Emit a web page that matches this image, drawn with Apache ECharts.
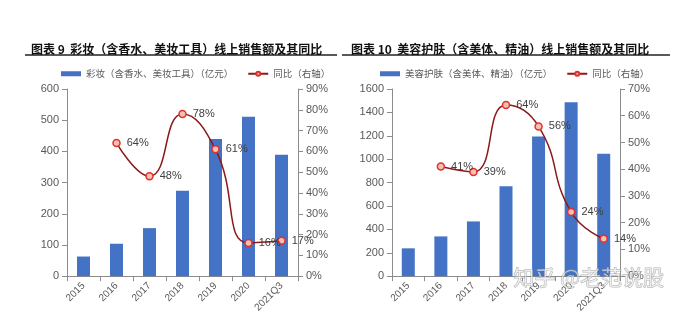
<!DOCTYPE html>
<html>
<head>
<meta charset="utf-8">
<script src="https://cdn.jsdelivr.net/npm/echarts@6/dist/echarts.min.js"></script>
<style>
  html, body { margin: 0; padding: 0; background: #fff; }
  #chart { width: 674px; height: 315px; }
</style>
</head>
<body>
<div id="chart"></div>
<script>
const years = ['2015', '2016', '2017', '2018', '2019', '2020', '2021Q3'];

// 彩妆
const makeupSales = [63, 104, 154, 274, 440, 511, 389];
const makeupYoY = [null, 64, 48, 78, 61, 16, 17];

// 美容护肤
const skincareSales = [238, 340, 468, 768, 1194, 1487, 1047];
const skincareYoY = [null, 41, 39, 64, 56, 24, 14];

const leftTicks = { max: 600, interval: 100 };
const rightTicks = { max: 1600, interval: 200 };

const chart = echarts.init(document.getElementById('chart'));

const axisGray = '#8c8c8c';
const labelGray = '#595959';
const barBlue = '#4472c4';
const lineRed = '#8b1a1a';
const dotRed = '#e03030';

function catAxis(gridIndex) {
  return {
    type: 'category',
    gridIndex: gridIndex,
    data: years,
    axisLine: { lineStyle: { color: axisGray } },
    axisTick: { show: true, lineStyle: { color: axisGray } },
    axisLabel: { rotate: 45, fontSize: 10, color: labelGray, margin: 8, fontFamily: 'Liberation Sans' }
  };
}

function valAxis(gridIndex, max, interval, pct) {
  return {
    type: 'value',
    gridIndex: gridIndex,
    min: 0,
    max: max,
    interval: interval,
    position: pct ? 'right' : 'left',
    splitLine: { show: false },
    axisLine: { show: true, lineStyle: { color: axisGray } },
    axisTick: { show: true, lineStyle: { color: axisGray } },
    axisLabel: {
      fontSize: 11,
      color: labelGray,
      fontFamily: 'Liberation Sans',
      formatter: v => pct ? v + '%' : String(v)
    }
  };
}

function lineSeries(xi, yi, data) {
  return {
    name: '同比（右轴）',
    type: 'line',
    xAxisIndex: xi,
    yAxisIndex: yi,
    data: data,
    smooth: 0.5,
    symbol: 'circle',
    symbolSize: 7,
    lineStyle: { color: lineRed, width: 1.5 },
    itemStyle: { color: '#f4c0b0', borderColor: dotRed, borderWidth: 1.5 },
    label: {
      show: true,
      position: 'right',
      distance: 6,
      formatter: '{c}%',
      fontSize: 11,
      color: '#404040',
      fontFamily: 'Liberation Sans'
    },
    z: 5
  };
}

function barSeries(name, xi, yi, data) {
  return {
    name: name,
    type: 'bar',
    xAxisIndex: xi,
    yAxisIndex: yi,
    data: data,
    barWidth: 13,
    itemStyle: { color: barBlue }
  };
}

const titleStyle = { fontSize: 12, fontWeight: 'bold', color: '#111', fontFamily: 'Noto Sans CJK SC' };
const legendText = { fontSize: 9.5, color: '#595959', fontFamily: 'Noto Sans CJK SC' };

chart.setOption({
  animation: false,
  title: [
    { text: '图表 9  彩妆（含香水、美妆工具）线上销售额及其同比', left: 26, top: 38, textStyle: titleStyle },
    { text: '图表 10  美容护肤（含美体、精油）线上销售额及其同比', left: 346, top: 38, textStyle: titleStyle }
  ],
  graphic: [
    { type: 'line', shape: { x1: 25, y1: 55, x2: 337, y2: 55 }, style: { stroke: '#222', lineWidth: 1.5 } },
    { type: 'line', shape: { x1: 342, y1: 55, x2: 670, y2: 55 }, style: { stroke: '#222', lineWidth: 1.5 } },
    {
      type: 'text', left: 513, top: 266, z: 100,
      style: { text: '知乎 @老范说股', fontSize: 21, fontFamily: 'Noto Sans CJK SC', fill: 'rgba(255,255,255,0.55)', stroke: 'rgba(120,120,120,0.55)', lineWidth: 1 }
    }
  ],
  legend: [
    {
      left: 56, top: 64, itemWidth: 20, itemHeight: 5, itemGap: 14,
      textStyle: legendText,
      data: [
        { name: '彩妆（含香水、美妆工具）（亿元）', icon: 'rect' },
        { name: '同比（右轴）' }
      ]
    },
    {
      left: 375, top: 64, itemWidth: 20, itemHeight: 5, itemGap: 14,
      textStyle: legendText,
      data: [
        { name: '美容护肤（含美体、精油）（亿元）', icon: 'rect' },
        { name: '同比（右轴）' }
      ]
    }
  ],
  grid: [
    { left: 67, top: 89, width: 231, height: 188 },
    { left: 392, top: 89, width: 228, height: 188 }
  ],
  xAxis: [catAxis(0), catAxis(1)],
  yAxis: [
    valAxis(0, leftTicks.max, leftTicks.interval, false),
    valAxis(0, 90, 10, true),
    valAxis(1, rightTicks.max, rightTicks.interval, false),
    valAxis(1, 70, 10, true)
  ],
  series: [
    barSeries('彩妆（含香水、美妆工具）（亿元）', 0, 0, makeupSales),
    lineSeries(0, 1, makeupYoY),
    barSeries('美容护肤（含美体、精油）（亿元）', 1, 2, skincareSales),
    lineSeries(1, 3, skincareYoY)
  ]
});
</script>
</body>
</html>
